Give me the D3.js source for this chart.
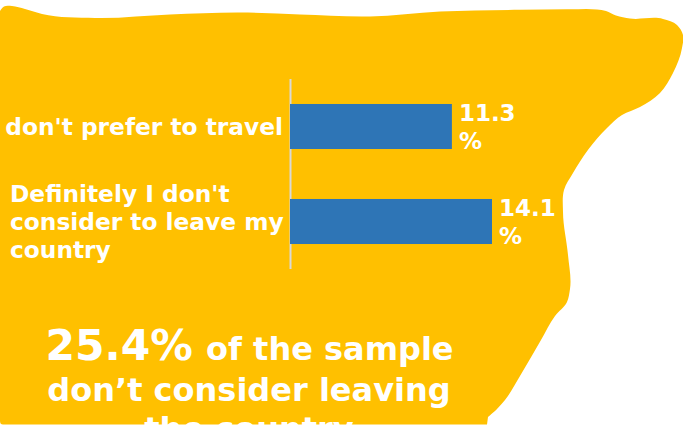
<!DOCTYPE html>
<html>
<head>
<meta charset="utf-8">
<script src="https://cdn.jsdelivr.net/npm/d3@7"></script>
<style>
  html, body { margin: 0; padding: 0; background: #fff; }
  svg { display: block; }
  text { font-family: "DejaVu Sans", sans-serif; font-weight: bold; fill: #fff; }
</style>
</head>
<body>
<svg id="chart" width="683" height="425"></svg>
<script>
// Survey answers and their shares (percent)
const categories = ["don't prefer to travel", "Definitely I don't consider to leave my country"];
const categoryLines = [["don't prefer to travel"], ["Definitely I don't", "consider to leave my", "country"]];
const values = [11.3, 14.1];
const valueLines = [["11.3", "%"], ["14.1", "%"]];

// Outline of the hand-drawn backdrop shape
const backdropOutline = [
  [0, 11], [4, 6.5], [12, 6], [25, 9], [42, 14], [95, 18], [170, 14.5], [240, 12.5], [300, 14.5], [370, 16.5],
  [440, 11.5], [520, 9.8], [570, 9.2], [597, 9.5], [606, 11], [616, 15.5], [630, 18.5], [663, 19], [677, 25], [683, 35], [682, 48],
  [673, 73], [660, 93], [640, 107], [622, 115], [607, 128], [573, 173], [564, 190], [563, 212],
  [568, 255], [570, 289], [567, 302], [555, 316], [541, 340], [520, 376], [505, 400], [497, 409], [488, 417]
];

const svg = d3.select("#chart");

// Backdrop: smooth curve along the outline, closed square along the bottom-left
const outlinePath = d3.line().curve(d3.curveCatmullRom.alpha(1))(backdropOutline);
svg.append("path")
  .attr("d", outlinePath + "L487,424.5L3,424.5Q0,424.5 0,421Z")
  .attr("fill", "#FFC000");

const x = d3.scaleLinear().domain([0, 14.1]).range([290, 492]);
const y = d3.scaleBand().domain(categories).range([79, 269]).paddingInner(0.526).paddingOuter(0.263);

// Baseline
svg.append("line")
  .attr("x1", 290.5).attr("x2", 290.5).attr("y1", 79).attr("y2", 269)
  .attr("stroke", "#D9D9D9").attr("stroke-width", 2);

// Bars
svg.selectAll("rect.bar").data(values).join("rect")
  .attr("class", "bar")
  .attr("x", x(0))
  .attr("y", (d, i) => y(categories[i]))
  .attr("width", d => x(d) - x(0))
  .attr("height", y.bandwidth())
  .attr("fill", "#2E75B6");

// Category labels, the long one wrapped over several lines
const labelLineHeight = 28;
categoryLines.forEach((lines, i) => {
  const cy = y(categories[i]) + y.bandwidth() / 2;
  const top = cy - (lines.length - 1) * labelLineHeight / 2;
  const t = svg.append("text")
    .attr("font-size", 23.3)
    .attr("text-anchor", lines.length > 1 ? "start" : "end");
  lines.forEach((line, j) => {
    t.append("tspan")
      .attr("x", lines.length > 1 ? 10 : 283)
      .attr("y", top + j * labelLineHeight + 8)
      .text(line);
  });
});

// Value labels next to each bar
valueLines.forEach((lines, i) => {
  const cy = y(categories[i]) + y.bandwidth() / 2;
  lines.forEach((line, j) => {
    svg.append("text")
      .attr("font-size", 23)
      .attr("x", x(values[i]) + 7)
      .attr("y", cy + (j - 0.5) * 28 + 8)
      .text(line);
  });
});

// Closing statement, runs past the bottom edge
const headline = svg.append("text").attr("text-anchor", "middle").attr("x", 249.5).attr("y", 360);
headline.append("tspan").attr("font-size", 42.5).text("25.4%");
headline.append("tspan").attr("font-size", 32).attr("dx", 2).text(" of the sample");
svg.append("text").attr("text-anchor", "middle").attr("x", 249).attr("y", 401)
  .attr("font-size", 32).text("don’t consider leaving");
svg.append("text").attr("text-anchor", "middle").attr("x", 249).attr("y", 440)
  .attr("font-size", 32).text("the country");
</script>
</body>
</html>
